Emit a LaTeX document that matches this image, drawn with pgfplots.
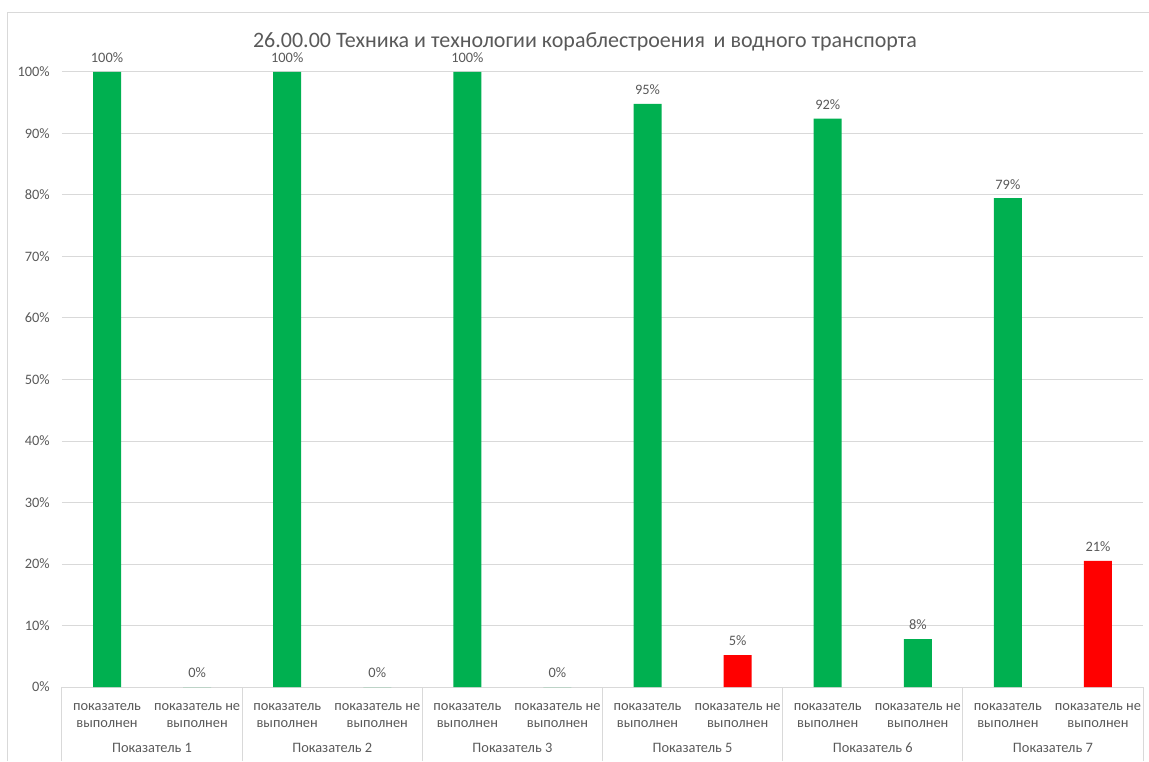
\documentclass[border=0pt]{standalone}
\usepackage{pgfplots}
\pgfplotsset{compat=1.18}
\usepackage{fontspec}
\setmainfont{Carlito}
\definecolor{bargreen}{HTML}{00B050}
\definecolor{barred}{HTML}{FF0000}
\definecolor{txtgray}{HTML}{595959}
\definecolor{gridgray}{HTML}{D9D9D9}
\begin{document}
\begin{tikzpicture}
\begin{axis}[
  at={(46.5pt,55.5pt)}, anchor=south west,
  scale only axis, width=810.75pt, height=461.25pt,
  xmin=-0.5, xmax=11.5, ymin=0, ymax=100,
  enlargelimits=false, clip=false,
  axis line style={draw=none},
  ymajorgrids, grid style={gridgray, line width=0.75pt},
  xtick pos=lower, ytick pos=left,
  ytick={0,10,...,100},
  yticklabels={0\%,10\%,20\%,30\%,40\%,50\%,60\%,70\%,80\%,90\%,100\%},
  yticklabel style={font=\fontsize{10.8}{12}\selectfont, text=txtgray, inner sep=0pt, xshift=-9pt},
  ytick style={draw=none},
  xtick={0,1,2,3,4,5,6,7,8,9,10,11},
  xticklabels={
    {показатель\\выполнен},{показатель не\\выполнен},
    {показатель\\выполнен},{показатель не\\выполнен},
    {показатель\\выполнен},{показатель не\\выполнен},
    {показатель\\выполнен},{показатель не\\выполнен},
    {показатель\\выполнен},{показатель не\\выполнен},
    {показатель\\выполнен},{показатель не\\выполнен}},
  xticklabel style={align=center, font=\fontsize{10.8}{12.75}\selectfont, text=txtgray, inner sep=0pt, yshift=-12.5pt},
  xtick style={draw=none},
  extra x ticks={-0.5,1.5,3.5,5.5,7.5,9.5,11.5},
  extra x tick labels={},
  extra x tick style={xtick pos=lower, xtick style={draw=gridgray, line width=0.75pt}, major tick length=55.5pt, tick align=outside},
  nodes near coords style={font=\fontsize{10.8}{12}\selectfont, text=txtgray, anchor=south, inner sep=0pt, yshift=6.5pt},
]
\addplot[ybar, bar width=21pt, bar shift=0pt, fill=bargreen, draw=none,
  point meta=explicit symbolic, nodes near coords={\pgfplotspointmeta\%}]
  coordinates {(0,100)[100] (1,0)[0] (2,100)[100] (3,0)[0] (4,100)[100] (5,0)[0]
               (6,94.8)[95] (8,92.4)[92] (9,7.8)[8] (10,79.5)[79]};
\addplot[ybar, bar width=21pt, bar shift=0pt, fill=barred, draw=none,
  point meta=explicit symbolic, nodes near coords={\pgfplotspointmeta\%}]
  coordinates {(7,5.2)[5] (11,20.5)[21]};
\foreach \g/\t in {0.5/Показатель 1, 2.5/Показатель 2, 4.5/Показатель 3, 6.5/Показатель 5, 8.5/Показатель 6, 10.5/Показатель 7}{
  \edef\tmp{\noexpand\node[font=\noexpand\fontsize{10.8}{12}\noexpand\selectfont, text=txtgray, anchor=base, yshift=-49pt] at (axis cs:\g,0) {\t};}
  \tmp
}
\end{axis}
\node[font=\fontsize{16.5}{19}\selectfont, text=txtgray] at (438.75pt,539.25pt) {26.00.00 Техника и технологии кораблестроения\, и водного транспорта};
\draw[gridgray, line width=0.75pt] (5.25pt,0) -- (5.25pt,561pt) -- (861.75pt,561pt);
\pgfresetboundingbox
\path[use as bounding box] (0,0) rectangle (861.75pt,570.75pt);
\end{tikzpicture}
\end{document}
